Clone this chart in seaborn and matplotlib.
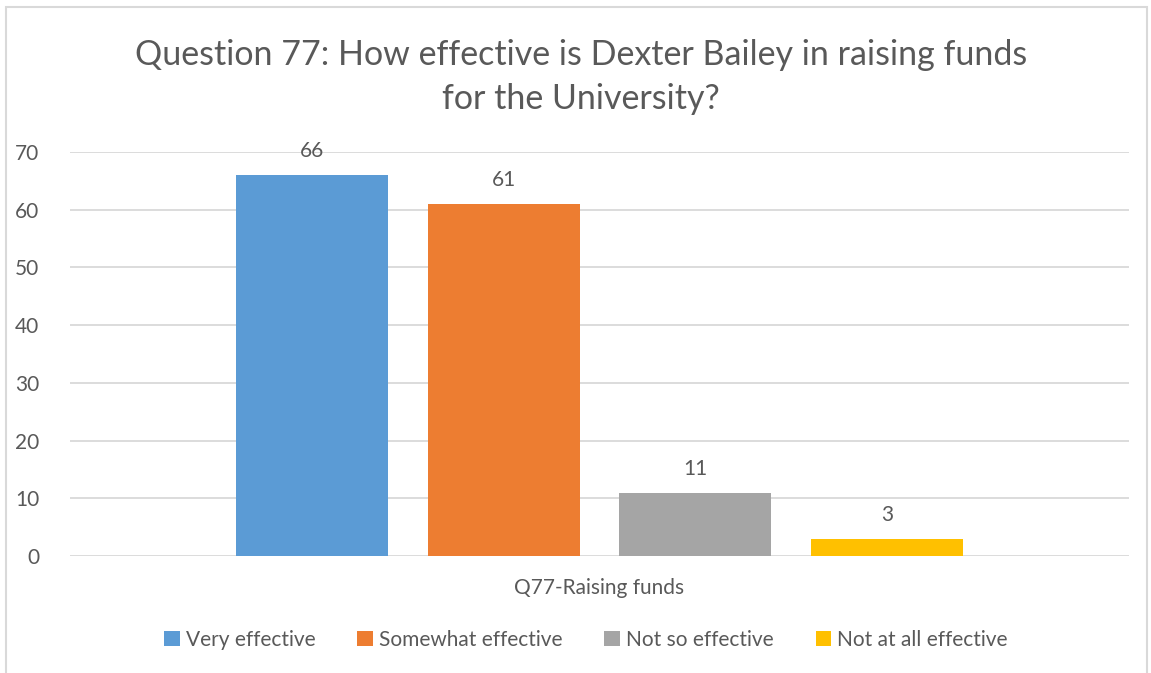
import pandas as pd
import seaborn as sns
import matplotlib.pyplot as plt
from matplotlib.patches import Rectangle

question = ['Q77-Raising funds']
responses = ['Very effective', 'Somewhat effective', 'Not so effective', 'Not at all effective']
counts = [66, 61, 11, 3]
colors = ['#5B9BD5', '#ED7D31', '#A5A5A5', '#FFC000']

df = pd.DataFrame({'Question': question * len(responses), 'Response': responses, 'Count': counts})

sns.set_theme(style='white')
plt.rcParams['font.family'] = ['Lato', 'DejaVu Sans']
txt = '#595959'

fig = plt.figure(figsize=(11.51, 6.73), dpi=100)
ax = fig.add_axes([70/1151, 1-556/673, 1059/1151, 404/673])

sns.barplot(data=df, x='Question', y='Count', hue='Response', hue_order=responses,
            palette=colors, width=0.725, gap=0.208, saturation=1, linewidth=0, ax=ax, legend=True)

for c in ax.containers:
    ax.bar_label(c, padding=10, fontsize=15, color=txt)

ax.set_ylim(0, 70)
ax.set_xlim(-0.5, 0.5)
ax.set_yticks(range(0, 71, 10))
ax.yaxis.grid(True, color='#D9D9D9', linewidth=1.3)
ax.set_axisbelow(True)
for s in ax.spines.values():
    s.set_visible(False)
ax.set_xlabel('')
ax.set_ylabel('')
ax.tick_params(axis='y', labelsize=15, labelcolor=txt, pad=22, length=0)
ax.tick_params(axis='x', labelsize=15, labelcolor=txt, pad=16, length=0)

fig.text(0.505, 0.886, 'Question 77: How effective is Dexter Bailey in raising funds\nfor the University?',
         ha='center', va='center', fontsize=24.5, color=txt, linespacing=1.45)

ax.legend(loc='center', bbox_to_anchor=(586/1151, 1-640/673), bbox_transform=fig.transFigure,
          ncol=4, frameon=False, fontsize=15, labelcolor=txt, handlelength=0.75, handleheight=0.75,
          handletextpad=0.3, columnspacing=2.0)

fig.patches.append(Rectangle((6/1151, -0.01), 1141/1151, 1-7/673+0.01, transform=fig.transFigure,
                             fill=False, edgecolor='#D9D9D9', linewidth=1.5))

fig.savefig('out.png', dpi=100)
